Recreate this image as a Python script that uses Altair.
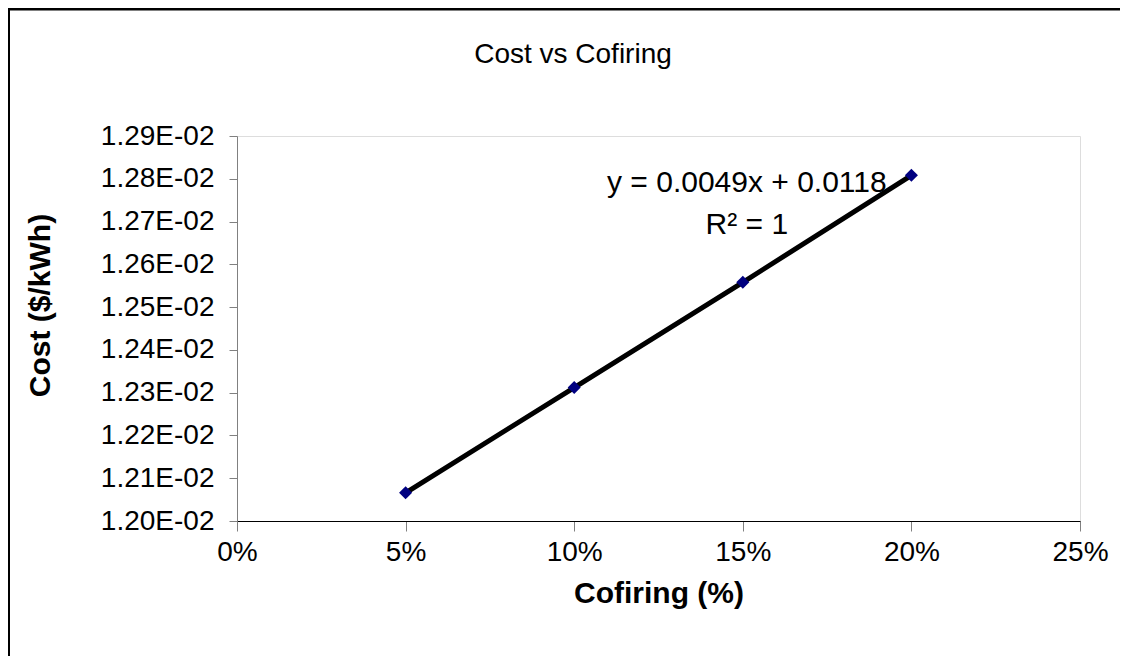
import altair as alt
import pandas as pd

cofiring = [0.05, 0.10, 0.15, 0.20]
cost = [0.012066, 0.012312, 0.012558, 0.012808]

eq_text = ["y = 0.0049x + 0.0118", "R\u00b2 = 1"]
eq_x = [0.1512, 0.1512]
eq_y = [0.012790, 0.012692]

title_text = ["Cost vs Cofiring"]

df = pd.DataFrame({"x": cofiring, "y": cost})
ann = pd.DataFrame({"x": eq_x, "y": eq_y, "t": eq_text})
tdf = pd.DataFrame({"t": title_text})

FONT = "Liberation Sans"
TICK_FS = 28
TITLE_FS = 30

xscale = alt.Scale(domain=[0, 0.25], nice=False, zero=False)
yscale = alt.Scale(domain=[0.0120, 0.0129], nice=False, zero=False)

xenc = alt.X("x:Q", scale=xscale,
             axis=alt.Axis(title="Cofiring (%)", values=[0, 0.05, 0.1, 0.15, 0.2, 0.25],
                           format=".0%", grid=False, domainColor="#000000",
                           tickColor="#808080", tickSize=10, labelFontSize=TICK_FS,
                           labelFont=FONT, labelColor="#000000", labelPadding=7,
                           labelFlush=False,
                           titleFont=FONT, titleFontSize=TITLE_FS, titleFontWeight="bold",
                           titleColor="#000000", titleY=72, titleBaseline="middle"))
yenc = alt.Y("y:Q", scale=yscale,
             axis=alt.Axis(title="Cost ($/kWh)",
                           values=[0.0120, 0.0121, 0.0122, 0.0123, 0.0124, 0.0125,
                                   0.0126, 0.0127, 0.0128, 0.0129],
                           labelExpr="format(datum.value*100, '.2f') + 'E-02'",
                           grid=False, domainColor="#808080", tickColor="#808080",
                           tickSize=8, labelFontSize=TICK_FS, labelFont=FONT,
                           labelColor="#000000", labelPadding=15, labelFlush=False,
                           titleFont=FONT, titleFontSize=TITLE_FS, titleFontWeight="bold",
                           titleColor="#000000", titleX=-197, titleY=169,
                           titleBaseline="middle", titleAlign="center", titleAngle=270))

line = alt.Chart(df).mark_line(color="#000000", strokeWidth=5).encode(x=xenc, y=yenc)
pts = alt.Chart(df).mark_point(shape="diamond", filled=True, color="#000080",
                               size=170, opacity=1).encode(x="x:Q", y="y:Q")
txt = alt.Chart(ann).mark_text(font=FONT, fontSize=30, color="#000000").encode(
    x="x:Q", y="y:Q", text="t:N")
title = alt.Chart(tdf).mark_text(font=FONT, fontSize=28, color="#000000",
                                 baseline="middle").encode(
    x=alt.value(336), y=alt.value(-81), text="t:N")

border_l = alt.Chart(df).mark_rule(color="#000000", strokeWidth=2).encode(
    x=alt.value(-228), y=alt.value(-128), y2=alt.value(520))
border_t = alt.Chart(df).mark_rule(color="#000000", strokeWidth=2).encode(
    x=alt.value(-229), x2=alt.value(900), y=alt.value(-127))
border_t2 = alt.Chart(df).mark_rule(color="#808080", strokeWidth=1).encode(
    x=alt.value(-227), x2=alt.value(900), y=alt.value(-125.5))

chart = alt.layer(line, pts, txt, title, border_l, border_t2, border_t).properties(
    width=843, height=385,
    autosize=alt.AutoSizeParams(type="none"),
    padding={"left": 229, "top": 128, "right": 40, "bottom": 135},
).configure_view(stroke=None).configure(background="#ffffff")

chart.save("out.html", embed_options={"renderer": "svg", "actions": False})
